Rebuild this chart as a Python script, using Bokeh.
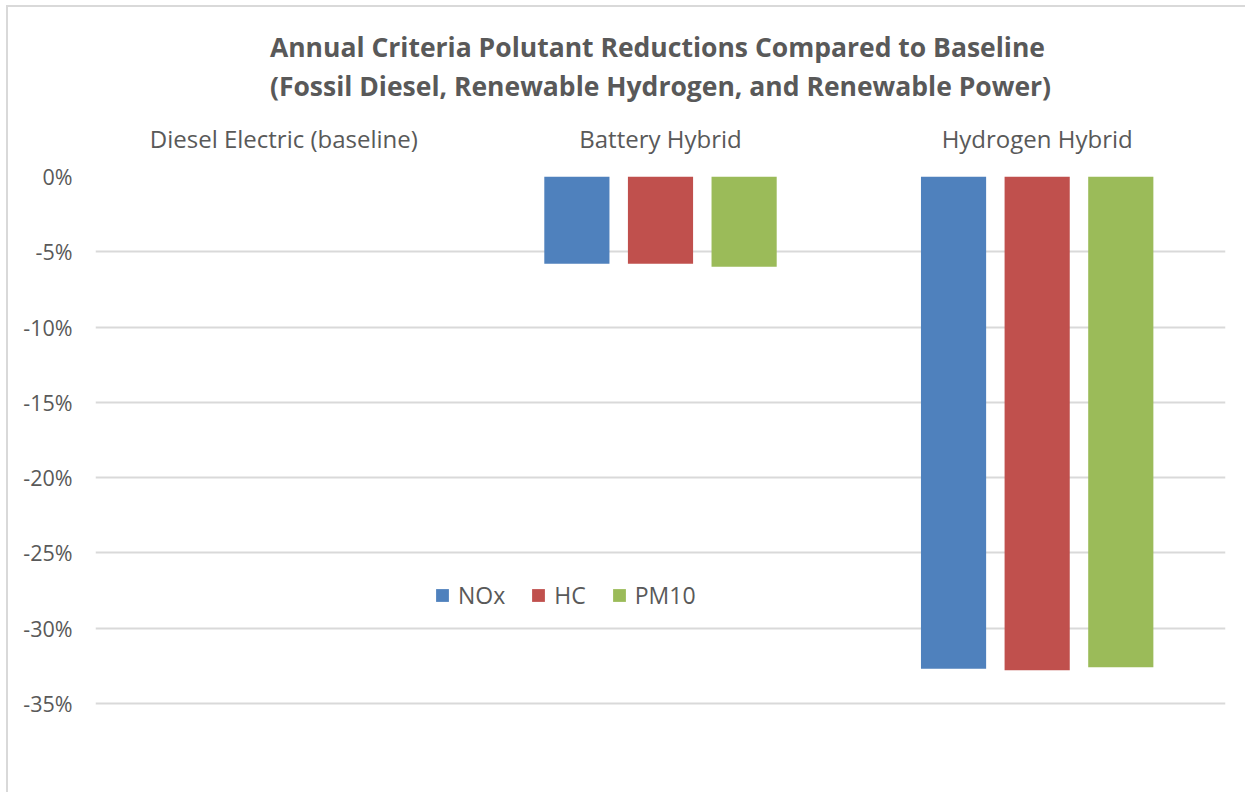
from bokeh.plotting import figure
from bokeh.models import (ColumnDataSource, FixedTicker, NumeralTickFormatter, Range1d,
                          Title, InlineStyleSheet)
from bokeh.transform import dodge
from bokeh.embed import file_html
from bokeh.resources import INLINE

categories = ["Diesel Electric (baseline)", "Battery Hybrid", "Hydrogen Hybrid"]
series = ["NOx", "HC", "PM10"]
nox = [0.0, -0.058, -0.327]
hc = [0.0, -0.058, -0.328]
pm10 = [0.0, -0.060, -0.326]
colors = ["#4F81BD", "#C0504D", "#9BBB59"]
y_ticks = [0.0, -0.05, -0.10, -0.15, -0.20, -0.25, -0.30, -0.35]
title_lines = ["Annual Criteria Polutant Reductions Compared to Baseline",
               "(Fossil Diesel, Renewable Hydrogen, and Renewable Power)"]

src = ColumnDataSource(dict(cat=categories, NOx=nox, HC=hc, PM10=pm10))

FONT = "Open Sans"
TXT = "#595959"

p = figure(x_range=categories, y_range=Range1d(-0.40, 0.0),
           frame_width=1130, frame_height=602,
           x_axis_location="above", output_backend="svg", toolbar_location=None,
           min_border_left=95, min_border_right=20, min_border_bottom=14, min_border_top=0)

# outermost spacer title (p.title is placed furthest from the frame)
p.title.text = " "
p.title.text_font_size = "9px"
p.title.standoff = 0

t = Title(text="\n".join(title_lines), align="center",
          text_font=FONT, text_font_size="26.5px", text_font_style="bold", text_color=TXT,
          text_line_height=1.08, standoff=29)

offsets = [-0.222, 0.0, 0.222]
for s, off, c in zip(series, offsets, colors):
    p.vbar(x=dodge("cat", off, range=p.x_range), top=s, bottom=0, width=0.173, source=src,
           fill_color=c, line_color=None, legend_label=s)

p.add_layout(t, "above")

p.xaxis.axis_line_color = None
p.xaxis.major_tick_line_color = None
p.xaxis.minor_tick_line_color = None
p.xaxis.major_label_text_font = FONT
p.xaxis.major_label_text_font_size = "24px"
p.xaxis.major_label_text_color = TXT
p.xaxis.major_label_standoff = 16

p.yaxis.ticker = FixedTicker(ticks=y_ticks)
p.yaxis.formatter = NumeralTickFormatter(format="0%")
p.yaxis.axis_line_color = None
p.yaxis.major_tick_line_color = None
p.yaxis.minor_tick_line_color = None
p.yaxis.major_label_text_font = FONT
p.yaxis.major_label_text_font_size = "21.5px"
p.yaxis.major_label_text_color = TXT
p.yaxis.major_label_standoff = 17

p.xgrid.grid_line_color = None
p.ygrid.grid_line_color = "#D9D9D9"
p.ygrid.grid_line_width = 2
p.ygrid.ticker = FixedTicker(ticks=y_ticks)
p.outline_line_color = None

leg = p.legend[0]
leg.orientation = "horizontal"
leg.location = (339, 167)
leg.padding = 0
leg.margin = 0
leg.spacing = 25
leg.label_standoff = 8
leg.glyph_width = 16
leg.glyph_height = 16
leg.border_line_color = None
leg.background_fill_alpha = 0
leg.label_text_font = FONT
leg.label_text_font_size = "23px"
leg.label_text_color = TXT

# chart-area border (Excel chart frame, left and top edges visible)
p.stylesheets = [InlineStyleSheet(css="""
:host { position: relative; }
:host::after {
  content: ""; position: absolute; left: 6px; top: 5px;
  width: calc(100% - 6px); height: calc(100% - 5px);
  border-left: 2px solid #D9D9D9; border-top: 2px solid #D9D9D9;
  pointer-events: none; z-index: 10; box-sizing: border-box;
}
""")]

open("out.html", "w").write(file_html(p, INLINE))
